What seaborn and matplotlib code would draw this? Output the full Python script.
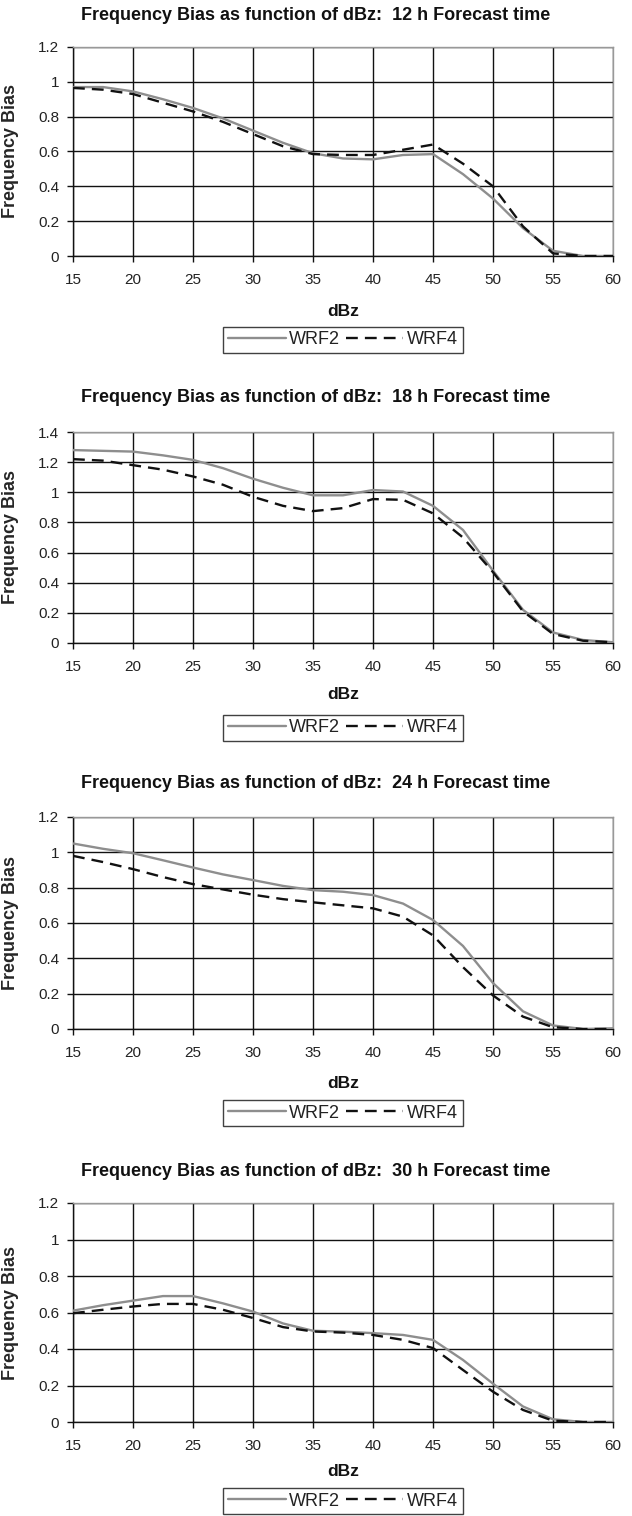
import numpy as np
import pandas as pd
import matplotlib
matplotlib.use("Agg")
import matplotlib.pyplot as plt
import seaborn as sns

sns.set_style("white")
plt.rcParams['font.family'] = ['Liberation Sans', 'DejaVu Sans']

# ---------------- data ----------------
dbz = [15, 17.5, 20, 22.5, 25, 27.5, 30, 32.5, 35, 37.5, 40, 42.5, 45, 47.5, 50, 52.5, 55, 57.5, 60]

wrf2_12 = [0.97, 0.97, 0.945, 0.90, 0.85, 0.79, 0.72, 0.65, 0.59, 0.56, 0.555, 0.58, 0.585, 0.47, 0.33, 0.16, 0.03, 0.0, 0.0]
wrf4_12 = [0.965, 0.955, 0.93, 0.88, 0.83, 0.77, 0.70, 0.63, 0.585, 0.58, 0.58, 0.61, 0.64, 0.53, 0.40, 0.17, 0.015, 0.0, 0.0]

wrf2_18 = [1.28, 1.275, 1.27, 1.245, 1.215, 1.16, 1.09, 1.03, 0.98, 0.98, 1.015, 1.005, 0.91, 0.75, 0.48, 0.22, 0.07, 0.02, 0.005]
wrf4_18 = [1.22, 1.21, 1.18, 1.15, 1.105, 1.05, 0.97, 0.91, 0.875, 0.895, 0.955, 0.95, 0.86, 0.70, 0.47, 0.21, 0.06, 0.015, 0.005]

wrf2_24 = [1.05, 1.02, 0.995, 0.955, 0.914, 0.875, 0.843, 0.81, 0.786, 0.777, 0.758, 0.71, 0.617, 0.47, 0.26, 0.10, 0.02, 0.0, 0.004]
wrf4_24 = [0.98, 0.945, 0.905, 0.86, 0.82, 0.79, 0.76, 0.735, 0.717, 0.70, 0.683, 0.636, 0.53, 0.35, 0.19, 0.07, 0.01, 0.0, 0.0]

wrf2_30 = [0.61, 0.64, 0.665, 0.69, 0.69, 0.65, 0.605, 0.54, 0.50, 0.495, 0.487, 0.477, 0.45, 0.34, 0.21, 0.085, 0.015, 0.0, 0.0]
wrf4_30 = [0.596, 0.615, 0.633, 0.647, 0.647, 0.615, 0.57, 0.52, 0.496, 0.49, 0.477, 0.45, 0.405, 0.285, 0.166, 0.066, 0.007, 0.0, 0.0]

hours = ["12", "18", "24", "30"]
series = {"12": (wrf2_12, wrf4_12), "18": (wrf2_18, wrf4_18),
          "24": (wrf2_24, wrf4_24), "30": (wrf2_30, wrf4_30)}
ymax = {"12": 1.2, "18": 1.4, "24": 1.2, "30": 1.2}
xticks = [15, 20, 25, 30, 35, 40, 45, 50, 55, 60]

# ---------------- layout (pixels) ----------------
W, H = 632, 1516
fig = plt.figure(figsize=(W / 100, H / 100), dpi=100)
fig.patch.set_facecolor("white")

left_px, right_px = 73, 613
panels = {  # top, bottom of plot area, title y, xlabel y, legend y
    "12": (47, 256, 15, 312, 340),
    "18": (432, 643, 398, 695, 728),
    "24": (817, 1029, 783, 1083, 1113),
    "30": (1203, 1422, 1172, 1472, 1501),
}

palette = {"WRF2": "#8e8e8e", "WRF4": "#111111"}
dashes = {"WRF2": "", "WRF4": (5, 3)}

for h in hours:
    top, bot, ty, xly, ly = panels[h]
    ax = fig.add_axes([left_px / W, 1 - bot / H, (right_px - left_px) / W, (bot - top) / H])
    w2, w4 = series[h]
    df = pd.DataFrame({
        "dBz": dbz * 2,
        "Frequency Bias": w2 + w4,
        "model": ["WRF2"] * len(dbz) + ["WRF4"] * len(dbz),
    })
    sns.lineplot(data=df, x="dBz", y="Frequency Bias", hue="model", style="model",
                 palette=palette, dashes=dashes, linewidth=1.7, ax=ax, zorder=3)
    ax.set_xlim(15, 60)
    ax.set_ylim(0, ymax[h])
    ax.set_xticks(xticks)
    yt = np.round(np.arange(0, ymax[h] + 0.001, 0.2), 1)
    ax.set_yticks(yt)
    ax.set_yticklabels([f"{v:g}" for v in yt])
    ax.grid(True, color="#111111", linewidth=1.0, zorder=0)
    ax.set_axisbelow(True)
    for s in ["left", "bottom"]:
        ax.spines[s].set_color("#111111")
        ax.spines[s].set_linewidth(1.0)
    for s in ["right", "top"]:
        ax.spines[s].set_color("#999999")
        ax.spines[s].set_linewidth(1.0)
    ax.tick_params(axis="both", direction="out", length=4, width=1, color="#111111",
                   labelsize=11, left=True, bottom=True, labelcolor="#222222")
    ax.tick_params(axis="x", pad=8)
    ax.tick_params(axis="y", pad=6)
    ax.set_xlabel("")
    ax.set_ylabel("Frequency Bias", fontsize=13, fontweight="bold")
    ax.yaxis.set_label_coords((19 - left_px) / (right_px - left_px), 0.5)

    fig.text(316 / W, 1 - ty / H, f"Frequency Bias as function of dBz:  {h} h Forecast time",
             ha="center", va="center", fontsize=13, fontweight="bold", color="#111111")
    fig.text(343 / W, 1 - xly / H, "dBz", ha="center", va="center", fontsize=12.5,
             fontweight="bold", color="#111111")

    sns.move_legend(ax, loc="center", bbox_to_anchor=(343 / W, 1 - ly / H),
                    bbox_transform=fig.transFigure, ncol=2, title=None, frameon=True,
                    fontsize=13, handlelength=3.2, handletextpad=0.2, columnspacing=0.3,
                    borderpad=0.25, borderaxespad=0, fancybox=False, edgecolor="#111111")
    leg = ax.get_legend()
    leg.get_frame().set_linewidth(1.0)
    for t in leg.get_texts():
        t.set_color("#222222")

fig.savefig("out.png", dpi=100, facecolor=fig.get_facecolor())
